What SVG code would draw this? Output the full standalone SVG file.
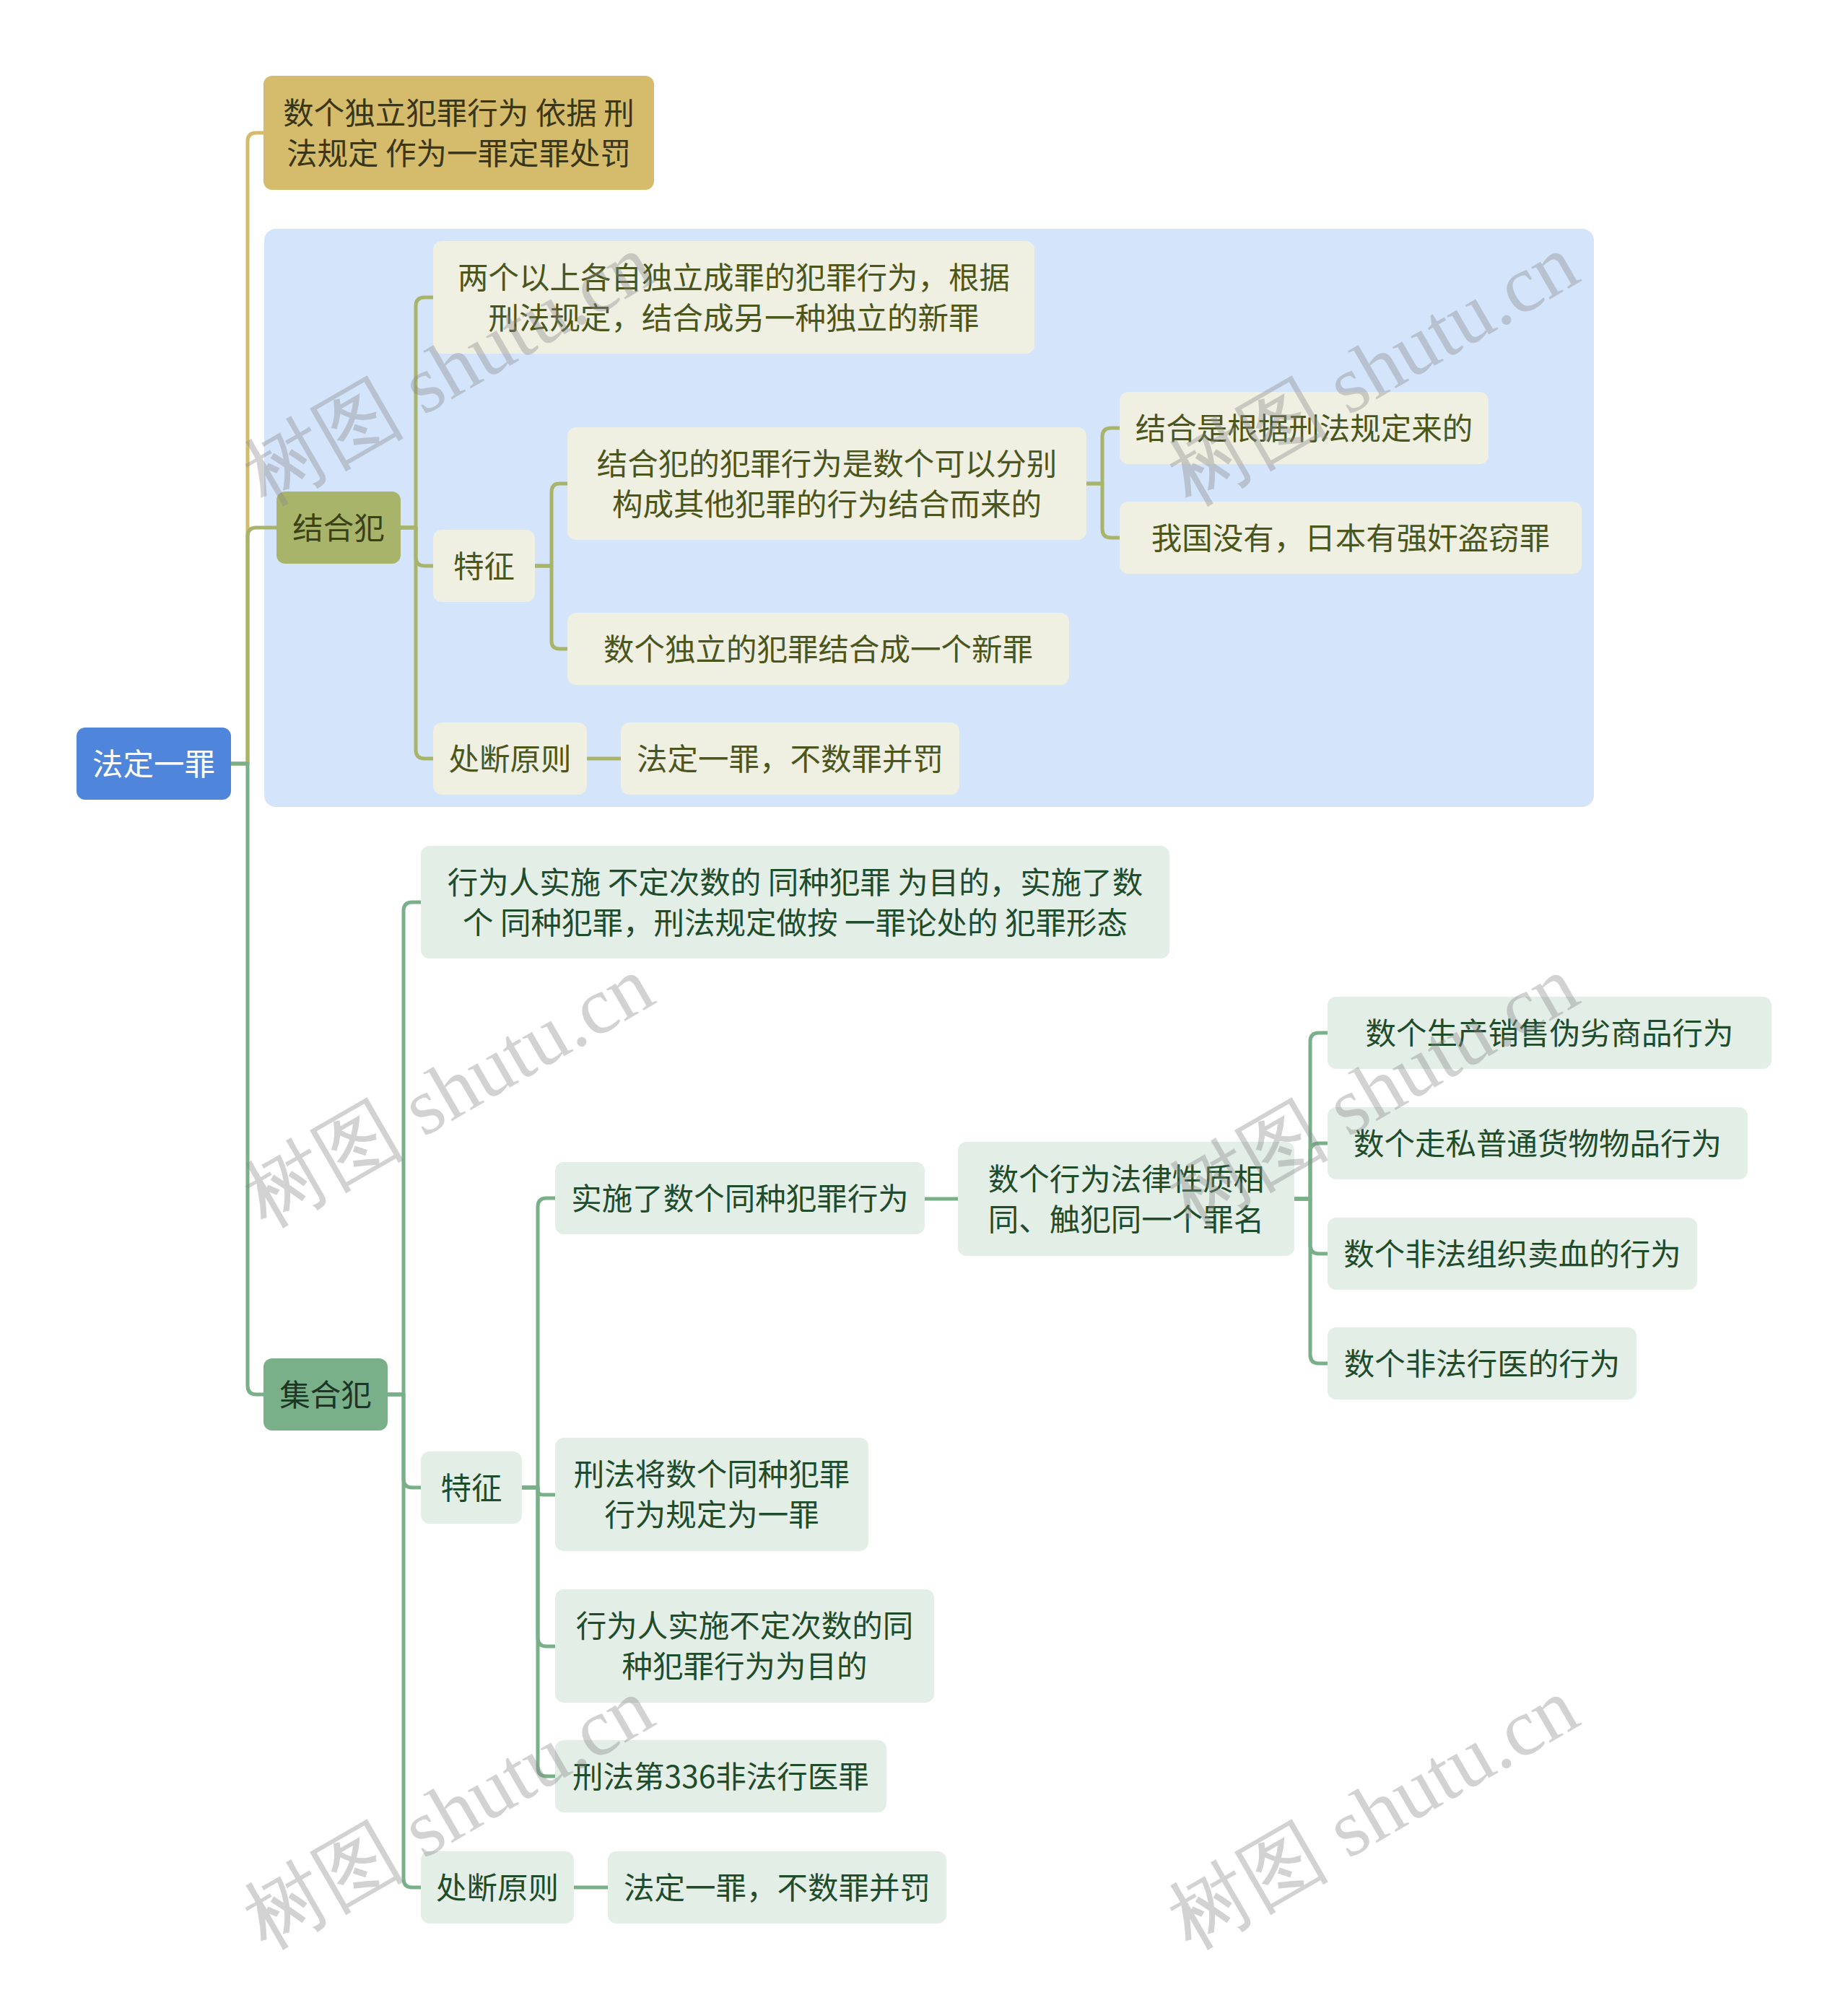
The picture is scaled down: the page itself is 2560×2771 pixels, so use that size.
<svg xmlns="http://www.w3.org/2000/svg" width="2560" height="2771" viewBox="0 0 2560 2771">
<style>
text{font-family:"Noto Sans CJK SC","Noto Sans",sans-serif;font-size:42.5px;text-anchor:middle;dominant-baseline:central}
.c{fill:none;stroke-width:5;stroke-linejoin:round;stroke-linecap:round}
.cg{stroke:#d4bc6c}.co{stroke:#a9b46b}.cn{stroke:#79b08a}
.lo{fill:#efefe2}.to{fill:#4b561d}
.lg{fill:#e3eee7}.tg{fill:#1f4c2b}
.wm{font-family:"Liberation Serif",serif;font-size:112px;fill:#8a8a8a;fill-opacity:0.38;text-anchor:middle;dominant-baseline:auto}
</style>
<rect width="2560" height="2771" fill="#ffffff"/>
<rect id="region" x="366" y="317" width="1842" height="801" rx="16" fill="#d4e4fb"/>
<g id="connectors">
<path class="c cg" d="M320,1058 H343 V196 Q343,184 355,184 H365"/>
<path class="c co" d="M320,1058 H343 V743 Q343,731 355,731 H383"/>
<path class="c cn" d="M320,1058 H343 V1920 Q343,1932 355,1932 H365"/>
<path class="c co" d="M555,731 H576 V424 Q576,412 588,412 H600"/>
<path class="c co" d="M555,731 H576 V772 Q576,784 588,784 H600"/>
<path class="c co" d="M555,731 H576 V1039 Q576,1051 588,1051 H600"/>
<path class="c co" d="M741,784 H764 V682 Q764,670 775,670 H786"/>
<path class="c co" d="M741,784 H764 V888 Q764,899 775,899 H786"/>
<path class="c co" d="M1505,670 H1527 V605 Q1527,593 1539,593 H1551"/>
<path class="c co" d="M1505,670 H1527 V733 Q1527,745 1539,745 H1551"/>
<path class="c co" d="M813,1051 H860"/>
<path class="c cn" d="M537,1932 H559 V1262 Q559,1250 571,1250 H583"/>
<path class="c cn" d="M537,1932 H559 V2049 Q559,2061 571,2061 H583"/>
<path class="c cn" d="M537,1932 H559 V2603 Q559,2615 571,2615 H583"/>
<path class="c cn" d="M723,2061 H745 V1672 Q745,1660 757,1660 H769"/>
<path class="c cn" d="M723,2061 H745 V2064 Q745,2071 752,2071 H769"/>
<path class="c cn" d="M723,2061 H745 V2269 Q745,2281 757,2281 H769"/>
<path class="c cn" d="M723,2061 H745 V2449 Q745,2461 757,2461 H769"/>
<path class="c cn" d="M795,2615 H842"/>
<path class="c cn" d="M1281,1661 H1327"/>
<path class="c cn" d="M1793,1661 H1815 V1443 Q1815,1431 1827,1431 H1839"/>
<path class="c cn" d="M1793,1661 H1815 V1596 Q1815,1584 1827,1584 H1839"/>
<path class="c cn" d="M1793,1661 H1815 V1725 Q1815,1737 1827,1737 H1839"/>
<path class="c cn" d="M1793,1661 H1815 V1877 Q1815,1889 1827,1889 H1839"/>
</g>
<g id="root"><rect x="106" y="1008" width="214" height="100" rx="12" fill="#4f86db"/><text x="213" y="1055" fill="#ffffff">法定一罪</text></g>
<g id="n-top"><rect x="365" y="105" width="541" height="158" rx="12" fill="#d4bc6c"/><text x="635.5" y="153" fill="#3b3618">数个独立犯罪行为 依据 刑</text><text x="635.5" y="209" fill="#3b3618">法规定 作为一罪定罪处罚</text></g>
<g id="n-jhf"><rect x="383" y="681" width="172" height="100" rx="12" fill="#a9b46b"/><text x="469" y="728" fill="#3a4219">结合犯</text></g>
<g id="n-j1"><rect class="lo" x="600" y="334" width="833" height="156" rx="12"/><text class="to" x="1016.5" y="381">两个以上各自独立成罪的犯罪行为，根据</text><text class="to" x="1016.5" y="437">刑法规定，结合成另一种独立的新罪</text></g>
<g id="n-j2"><rect class="lo" x="600" y="734" width="141" height="100" rx="12"/><text class="to" x="670.5" y="781">特征</text></g>
<g id="n-j21"><rect class="lo" x="786" y="592" width="719" height="156" rx="12"/><text class="to" x="1145.5" y="639">结合犯的犯罪行为是数个可以分别</text><text class="to" x="1145.5" y="695">构成其他犯罪的行为结合而来的</text></g>
<g id="n-j22"><rect class="lo" x="786" y="849" width="695" height="100" rx="12"/><text class="to" x="1133.5" y="896">数个独立的犯罪结合成一个新罪</text></g>
<g id="n-j211"><rect class="lo" x="1551" y="543" width="511" height="100" rx="12"/><text class="to" x="1806.5" y="590">结合是根据刑法规定来的</text></g>
<g id="n-j212"><rect class="lo" x="1551" y="695" width="640" height="100" rx="12"/><text class="to" x="1871" y="742">我国没有，日本有强奸盗窃罪</text></g>
<g id="n-j3"><rect class="lo" x="600" y="1001" width="213" height="100" rx="12"/><text class="to" x="706.5" y="1048">处断原则</text></g>
<g id="n-j31"><rect class="lo" x="860" y="1001" width="469" height="100" rx="12"/><text class="to" x="1094.5" y="1048">法定一罪，不数罪并罚</text></g>
<g id="n-jh"><rect x="365" y="1882" width="172" height="100" rx="12" fill="#79b08a"/><text x="451" y="1929" fill="#1d3524">集合犯</text></g>
<g id="n-g1"><rect class="lg" x="583" y="1172" width="1037" height="156" rx="12"/><text class="tg" x="1101.5" y="1219">行为人实施 不定次数的 同种犯罪 为目的，实施了数</text><text class="tg" x="1101.5" y="1275">个 同种犯罪，刑法规定做按 一罪论处的 犯罪形态</text></g>
<g id="n-g2"><rect class="lg" x="583" y="2011" width="140" height="100" rx="12"/><text class="tg" x="653" y="2058">特征</text></g>
<g id="n-s1"><rect class="lg" x="769" y="1610" width="512" height="100" rx="12"/><text class="tg" x="1025" y="1657">实施了数个同种犯罪行为</text></g>
<g id="n-t0"><rect class="lg" x="1327" y="1582" width="466" height="158" rx="12"/><text class="tg" x="1560" y="1630">数个行为法律性质相</text><text class="tg" x="1560" y="1686">同、触犯同一个罪名</text></g>
<g id="n-t1"><rect class="lg" x="1839" y="1381" width="615" height="100" rx="12"/><text class="tg" x="2146.5" y="1428">数个生产销售伪劣商品行为</text></g>
<g id="n-t2"><rect class="lg" x="1839" y="1534" width="582" height="100" rx="12"/><text class="tg" x="2130" y="1581">数个走私普通货物物品行为</text></g>
<g id="n-t3"><rect class="lg" x="1839" y="1687" width="512" height="100" rx="12"/><text class="tg" x="2095" y="1734">数个非法组织卖血的行为</text></g>
<g id="n-t4"><rect class="lg" x="1839" y="1839" width="428" height="100" rx="12"/><text class="tg" x="2053" y="1886">数个非法行医的行为</text></g>
<g id="n-s2"><rect class="lg" x="769" y="1992" width="434" height="157" rx="12"/><text class="tg" x="986" y="2039">刑法将数个同种犯罪</text><text class="tg" x="986" y="2095">行为规定为一罪</text></g>
<g id="n-s3"><rect class="lg" x="769" y="2202" width="525" height="157" rx="12"/><text class="tg" x="1031.5" y="2249">行为人实施不定次数的同</text><text class="tg" x="1031.5" y="2305">种犯罪行为为目的</text></g>
<g id="n-s4"><rect class="lg" x="769" y="2411" width="459" height="100" rx="12"/><text class="tg" x="998.5" y="2458">刑法第336非法行医罪</text></g>
<g id="n-g3"><rect class="lg" x="583" y="2565" width="212" height="100" rx="12"/><text class="tg" x="689" y="2612">处断原则</text></g>
<g id="n-g31"><rect class="lg" x="842" y="2565" width="469" height="100" rx="12"/><text class="tg" x="1076.5" y="2612">法定一罪，不数罪并罚</text></g>
<g id="watermarks">
<text class="wm" transform="translate(640,545) rotate(-30)">树图 shutu.cn</text>
<text class="wm" transform="translate(1921,545) rotate(-30)">树图 shutu.cn</text>
<text class="wm" transform="translate(640,1545) rotate(-30)">树图 shutu.cn</text>
<text class="wm" transform="translate(1921,1545) rotate(-30)">树图 shutu.cn</text>
<text class="wm" transform="translate(640,2545) rotate(-30)">树图 shutu.cn</text>
<text class="wm" transform="translate(1921,2545) rotate(-30)">树图 shutu.cn</text>
</g>
</svg>
